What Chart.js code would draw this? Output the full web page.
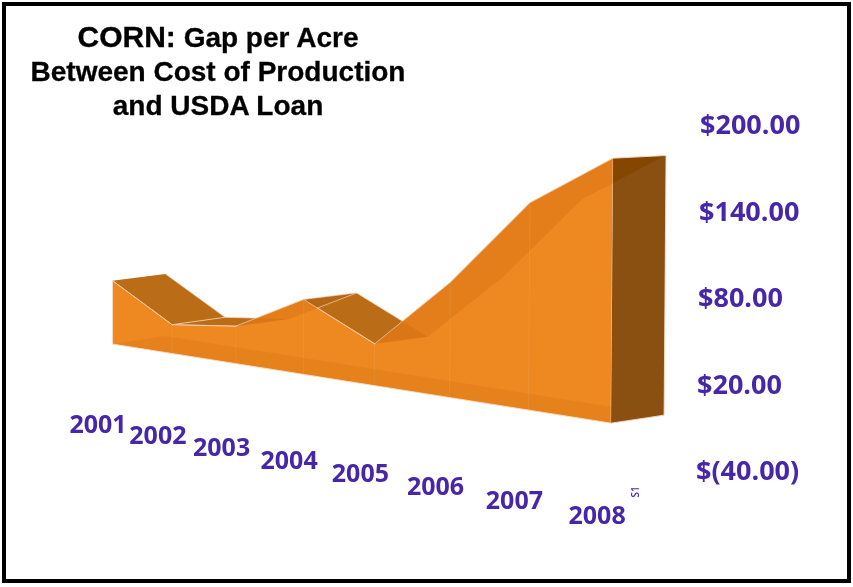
<!DOCTYPE html>
<html>
<head>
<meta charset="utf-8">
<title>CORN: Gap per Acre</title>
<script src="https://cdn.jsdelivr.net/npm/chart.js@4"></script>
<style>
  html, body { margin: 0; padding: 0; background: #fff; }
  #wrap { position: relative; width: 853px; height: 587px; overflow: hidden; }
  #frame { position: absolute; left: 2px; top: 2px; width: 841px; height: 573px; border: 4px solid #000; }
  #title {
    position: absolute; left: 18px; top: 20px; width: 400px; text-align: center;
    font: bold 28px/34px "Liberation Sans", Arial, sans-serif; color: #000;
    -webkit-text-stroke: 0.3px #000;
  }
  #title .big { font-size: 30px; }
  canvas { position: absolute; left: 0; top: 0; }
</style>
</head>
<body>
<div id="wrap">
  <canvas id="chart" width="853" height="587"></canvas>
  <div id="frame"></div>
  <div id="title"><span class="big">CORN:</span> Gap per Acre<br>Between Cost of Production<br>and USDA Loan</div>
</div>
<script>
const years = ['2001', '2002', '2003', '2004', '2005', '2006', '2007', '2008'];
const gap = [4, -20, -14, 12, -11, 40, 104, 144];
const axisTicks = [-40, 20, 80, 140, 200];
const seriesName = 'S1';

const AXIS_MIN = -40;
const PURPLE = '#4726a8';
const EDGE = 'rgba(248,222,196,0.9)';

// oblique projection of the 3D area: i = year index, depth 0 = front, 1 = back
function project(i, value, depth) {
  const baseX = 112 + 58 * i + 1.9 * i * i;
  const baseY = 344 + (baseX - 112) * 0.1586;
  const h = (value - AXIS_MIN) * 1.44 * (1 - 0.02 * depth);
  return { x: baseX + 53 * depth + h * 0.0075, y: baseY - 8 * depth - h };
}

const frontTop = gap.map((v, i) => project(i, v, 0));
const backTop = gap.map((v, i) => project(i, v, 1));
const frontBase = gap.map((v, i) => project(i, AXIS_MIN, 0));
const backBase = gap.map((v, i) => project(i, AXIS_MIN, 1));
const last = years.length - 1;

function face(points, color, order, edge) {
  return {
    data: points,
    showLine: true,
    fill: 'shape',
    tension: 0,
    pointRadius: 0,
    backgroundColor: color,
    borderColor: edge || 'transparent',
    borderWidth: edge ? 1 : 0,
    order,
  };
}

// lower order draws on top
const datasets = [
  face([frontBase[0], ...frontTop, frontBase[last]], '#ee8820', 5, EDGE),
  face([frontBase[0], frontBase[last]], 'transparent', 3, EDGE),
  face([...backBase, ...frontBase.slice().reverse()], 'rgba(171,76,0,0.1)', 3),
  face([frontTop[last], backTop[last], backBase[last], frontBase[last]], 'rgba(129,67,0,0.93)', 2, EDGE),
];

// sloped top of the area, one quad per year; tinted again over the front face
for (let i = 0; i < last; i++) {
  const quad = [frontTop[i], frontTop[i + 1], backTop[i + 1], backTop[i]];
  datasets.push(face(quad, '#be721c', 6, EDGE));
  datasets.push(face(quad, 'rgba(171,76,0,0.15)', 4));
}

// faint gridlines showing through the front face
years.forEach((y, i) => {
  if (i === 0 || i === last) return;
  datasets.push(face([frontBase[i], frontTop[i]], 'transparent', 1, 'rgba(255,255,255,0.07)'));
});

// axis text follows the sloped floor and the leaning value axis
const axisLabels = {
  id: 'axisLabels',
  afterDraw(chart) {
    const { ctx, scales } = chart;
    ctx.save();
    ctx.fillStyle = PURPLE;
    ctx.textBaseline = 'middle';

    ctx.font = 'bold 25px "Open Sans", sans-serif';
    ctx.textAlign = 'center';
    years.forEach((y, i) => {
      const p = frontBase[i];
      ctx.fillText(y, scales.x.getPixelForValue(p.x - 14), scales.y.getPixelForValue(p.y + 82 + 1.7 * i));
    });

    ctx.font = 'bold 27px "Open Sans", sans-serif';
    ctx.textAlign = 'left';
    axisTicks.forEach((v) => {
      const text = v < 0 ? `$(${Math.abs(v).toFixed(2)})` : `$${v.toFixed(2)}`;
      ctx.fillText(text, scales.x.getPixelForValue(696 + (v - AXIS_MIN) * 0.0167), scales.money.getPixelForValue(v));
    });

    ctx.translate(scales.x.getPixelForValue(636), scales.y.getPixelForValue(492));
    ctx.rotate(-Math.PI / 2);
    ctx.font = '600 10px "Open Sans", sans-serif';
    ctx.textAlign = 'center';
    ctx.fillText(seriesName, 0, 0);
    ctx.restore();
  },
};

new Chart(document.getElementById('chart'), {
  type: 'scatter',
  data: { datasets },
  plugins: [axisLabels],
  options: {
    responsive: false,
    animation: false,
    layout: { padding: 0 },
    plugins: { legend: { display: false }, tooltip: { enabled: false }, title: { display: false } },
    scales: {
      x: { type: 'linear', display: false, min: 0, max: 853 },
      y: { type: 'linear', display: false, min: 0, max: 587, reverse: true },
      money: { type: 'linear', display: false, position: 'right', min: -119.4, max: 287.8 },
    },
  },
});
</script>
</body>
</html>
